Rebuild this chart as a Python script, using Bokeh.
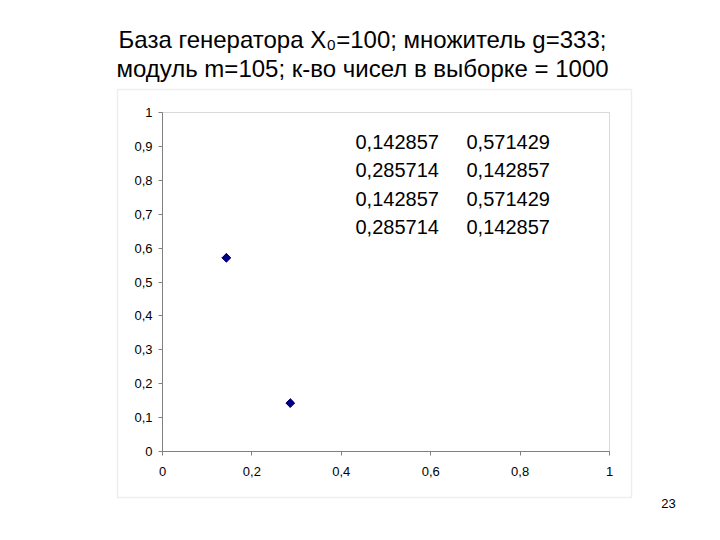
import math
from bokeh.plotting import figure
from bokeh.models import FixedTicker, CustomJSTickFormatter, Label, BoxAnnotation, Range1d
from bokeh.embed import file_html
from bokeh.resources import INLINE

# ---- data ----
title_line1 = "База генератора X₀=100; множитель g=333;"
title_line2 = "модуль m=105; к-во чисел в выборке = 1000"
sample_x = [0.142857, 0.285714, 0.142857, 0.285714]
sample_y = [0.571429, 0.142857, 0.571429, 0.142857]
x_ticks = [0, 0.2, 0.4, 0.6, 0.8, 1]
y_ticks = [0, 0.1, 0.2, 0.3, 0.4, 0.5, 0.6, 0.7, 0.8, 0.9, 1]
page_number = "23"

# ---- layout (page pixels) ----
W, H = 720, 540
L, R, T, B = 40, 720, 0, 509          # frame edges
PX0, PX1 = 162, 609                   # plot area x for data 0 and 1
PY0, PY1 = 451, 112                   # plot area y for data 0 and 1
FONT = "Liberation Sans"

sx = PX1 - PX0
sy = PY0 - PY1


def dx(px):
    return (px - PX0) / sx


def dy(py):
    return (PY0 - py) / sy


p = figure(width=W, height=H,
           x_range=Range1d(dx(L), dx(R)), y_range=Range1d(dy(B), dy(T)),
           output_backend="svg", toolbar_location=None,
           min_border_left=L, min_border_right=W - R,
           min_border_top=T, min_border_bottom=H - B)
p.grid.visible = False
p.outline_line_color = None
p.background_fill_color = "white"
p.border_fill_color = "white"

fmt = CustomJSTickFormatter(code="return String(Math.round(tick*10)/10).replace('.', ',')")
for ax, ticks in ((p.xaxis, x_ticks), (p.yaxis, y_ticks)):
    ax.ticker = FixedTicker(ticks=ticks)
    ax.formatter = fmt
    ax.fixed_location = 0
    ax.bounds = (0, 1)
    ax.axis_line_color = "#808080"
    ax.major_tick_line_color = "#808080"
    ax.major_tick_out = 4
    ax.major_tick_in = 0
    ax.minor_tick_out = 0
    ax.minor_tick_in = 0
    ax.major_label_text_font = FONT
    ax.major_label_text_font_size = "13px"
    ax.major_label_text_color = "#000000"
p.yaxis.major_label_standoff = 6
p.xaxis.major_label_standoff = 11

# outer chart box and plot area border
p.add_layout(BoxAnnotation(left=dx(117), right=dx(631), top=dy(89), bottom=dy(497),
                           fill_alpha=0, line_color="#c8c8c8", line_width=1.5))
p.add_layout(BoxAnnotation(left=0, right=1, top=1, bottom=0,
                           fill_alpha=0, line_color="#808080", line_width=1))

p.scatter(sample_x, sample_y, marker="square", angle=math.pi / 4, size=6, color="#000080")

# title
for txt, py in ((title_line1, 39), (title_line2, 68)):
    p.add_layout(Label(x=dx(362), y=dy(py), text=txt, text_align="center",
                       text_baseline="middle", text_font=FONT,
                       text_font_size="24px", text_color="#000000"))

# values table
for i, (xv, yv) in enumerate(zip(sample_x, sample_y)):
    py = 141 + 28.5 * i
    for val, px in ((xv, 355), (yv, 466)):
        p.add_layout(Label(x=dx(px), y=dy(py), text=f"{val:.6f}".replace(".", ","),
                           text_align="left", text_baseline="middle", text_font=FONT,
                           text_font_size="20px", text_color="#000000"))

p.add_layout(Label(x=dx(668), y=dy(503), text=page_number, text_align="center",
                   text_baseline="middle", text_font=FONT,
                   text_font_size="13px", text_color="#000000"))

open("out.html", "w").write(file_html(p, INLINE))
